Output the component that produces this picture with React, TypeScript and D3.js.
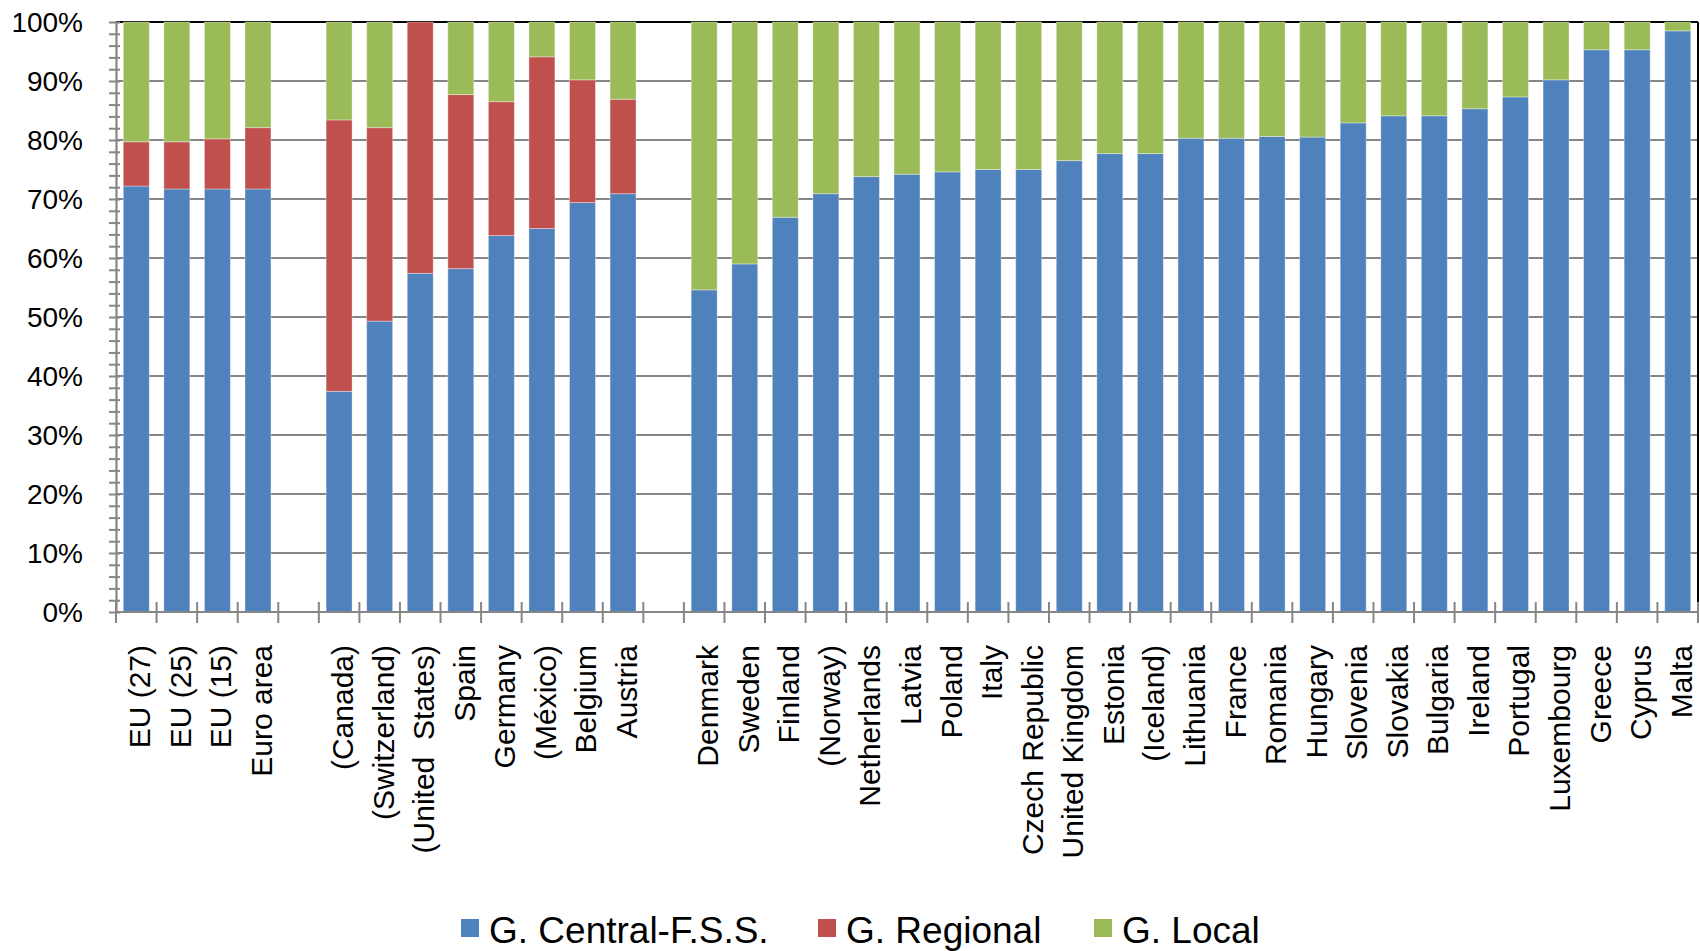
import { useEffect, useRef } from 'react';
import * as d3 from 'd3';

// Share of public expenditure by level of government (%)
const categories = [
  'EU (27)', 'EU (25)', 'EU (15)', 'Euro area',
  '(Canada)', '(Switzerland)', '(United  States)', 'Spain', 'Germany', '(México)', 'Belgium', 'Austria',
  'Denmark', 'Sweden', 'Finland', '(Norway)', 'Netherlands', 'Latvia', 'Poland', 'Italy',
  'Czech Republic', 'United Kingdom', 'Estonia', '(Iceland)', 'Lithuania', 'France', 'Romania',
  'Hungary', 'Slovenia', 'Slovakia', 'Bulgaria', 'Ireland', 'Portugal', 'Luxembourg', 'Greece',
  'Cyprus', 'Malta',
];

// empty slot after these categories
const gapAfter = ['Euro area', 'Austria'];

const central = [
  72.2, 71.7, 71.7, 71.7,
  37.4, 49.3, 57.4, 58.2, 63.8, 65.0, 69.4, 70.9,
  54.6, 59.0, 66.9, 70.9, 73.8, 74.2, 74.6, 75.0,
  75.0, 76.5, 77.7, 77.7, 80.3, 80.3, 80.6,
  80.5, 82.9, 84.1, 84.1, 85.3, 87.3, 90.2, 95.3,
  95.3, 98.5,
];

const regional = [
  7.5, 8.0, 8.5, 10.4,
  46.0, 32.8, 42.6, 29.5, 22.7, 29.1, 20.8, 16.0,
  0, 0, 0, 0, 0, 0, 0, 0,
  0, 0, 0, 0, 0, 0, 0,
  0, 0, 0, 0, 0, 0, 0, 0,
  0, 0,
];

const local = [
  20.3, 20.3, 19.8, 17.9,
  16.6, 17.9, 0, 12.3, 13.5, 5.9, 9.8, 13.1,
  45.4, 41.0, 33.1, 29.1, 26.2, 25.8, 25.4, 25.0,
  25.0, 23.5, 22.3, 22.3, 19.7, 19.7, 19.4,
  19.5, 17.1, 15.9, 15.9, 14.7, 12.7, 9.8, 4.7,
  4.7, 1.5,
];

const seriesNames = ['G. Central-F.S.S.', 'G. Regional', 'G. Local'];
const seriesColors = ['#4F81BD', '#C0504D', '#9BBB59'];

const yTicks = [0, 10, 20, 30, 40, 50, 60, 70, 80, 90, 100];

const FONT = '"Liberation Sans", Arial, sans-serif';

export default function App() {
  const svgRef = useRef<SVGSVGElement>(null);

  useEffect(() => {
    if (!svgRef.current) return;

    const width = 1700;
    const height = 951;
    const margin = { top: 22, right: 2, bottom: 339, left: 116 };
    const innerWidth = width - margin.left - margin.right;
    const innerHeight = height - margin.top - margin.bottom;

    const svg = d3.select(svgRef.current);
    svg.selectAll('*').remove();
    svg.attr('width', width).attr('height', height);

    // slots, with blank ones between the groups
    const slots: string[] = [];
    categories.forEach((c) => {
      slots.push(c);
      if (gapAfter.includes(c)) slots.push(`__gap_${c}`);
    });

    const data = categories.map((c, i) => ({
      name: c,
      v0: central[i],
      v1: regional[i],
      v2: local[i],
    }));

    const xScale = d3
      .scaleBand<string>()
      .domain(slots)
      .range([0, innerWidth])
      .paddingInner(0.36)
      .paddingOuter(0.18);

    const step = innerWidth / slots.length;

    const yScale = d3.scaleLinear().domain([0, 100]).range([innerHeight, 0]);

    const g = svg
      .append('g')
      .attr('transform', `translate(${margin.left},${margin.top})`);

    // Gridlines
    g.selectAll('line.grid')
      .data(yTicks.filter((t) => t > 0))
      .enter()
      .append('line')
      .attr('class', 'grid')
      .attr('x1', 0)
      .attr('x2', innerWidth)
      .attr('y1', (d) => yScale(d))
      .attr('y2', (d) => yScale(d))
      .attr('stroke', (d) => (d === 100 ? '#000000' : '#868686'))
      .attr('stroke-width', 2.2);

    // right border
    g.append('line')
      .attr('x1', innerWidth)
      .attr('x2', innerWidth)
      .attr('y1', 0)
      .attr('y2', innerHeight)
      .attr('stroke', '#000000')
      .attr('stroke-width', 2);

    // Stacked bars
    const stack = d3.stack<any>().keys(['v0', 'v1', 'v2']);
    const layers = stack(data);

    layers.forEach((layer, li) => {
      g.append('g')
        .selectAll('rect')
        .data(layer)
        .enter()
        .append('rect')
        .attr('x', (d) => xScale(d.data.name) as number)
        .attr('width', xScale.bandwidth())
        .attr('y', (d) => yScale(d[1]))
        .attr('height', (d) => yScale(d[0]) - yScale(d[1]))
        .attr('fill', seriesColors[li])
        .attr('stroke', 'rgba(255,255,255,0.35)')
        .attr('stroke-width', (d) => (d[1] - d[0] > 0 ? 1 : 0));
    });

    // Y axis
    const yAxis = d3
      .axisLeft(yScale)
      .tickValues(d3.range(0, 101, 2))
      .tickSizeInner(7)
      .tickSizeOuter(0)
      .tickFormat(() => '');

    const yg = g.append('g').call(yAxis);
    yg.select('.domain').attr('stroke', '#868686').attr('stroke-width', 2.2);
    yg.selectAll('.tick line')
      .attr('x1', 4)
      .attr('x2', -7)
      .attr('stroke', '#868686')
      .attr('stroke-width', 2);

    g.selectAll('text.ylabel')
      .data(yTicks)
      .enter()
      .append('text')
      .attr('class', 'ylabel')
      .attr('x', -33)
      .attr('y', (d) => yScale(d))
      .attr('dy', '0.35em')
      .attr('text-anchor', 'end')
      .attr('font-family', FONT)
      .attr('font-size', '28px')
      .attr('fill', '#000')
      .text((d) => `${d}%`);

    // X axis
    const xg = g.append('g').attr('transform', `translate(0,${innerHeight})`);
    xg.append('line')
      .attr('x1', 0)
      .attr('x2', innerWidth)
      .attr('stroke', '#868686')
      .attr('stroke-width', 2.2);

    xg.selectAll('line.xtick')
      .data(d3.range(slots.length + 1))
      .enter()
      .append('line')
      .attr('class', 'xtick')
      .attr('x1', (d) => d * step)
      .attr('x2', (d) => d * step)
      .attr('y1', -10)
      .attr('y2', 11)
      .attr('stroke', '#868686')
      .attr('stroke-width', 2);

    xg.selectAll('text')
      .data(categories)
      .enter()
      .append('text')
      .attr(
        'transform',
        (d) =>
          `translate(${(xScale(d) as number) + xScale.bandwidth() / 2 + 14},33) rotate(-90)`
      )
      .attr('text-anchor', 'end')
      .attr('font-family', FONT)
      .attr('font-size', '30px')
      .attr('fill', '#000')
      .style('white-space', 'pre')
      .text((d) => d);

    // Legend
    const legendX = [461, 818, 1094];
    const legend = svg.append('g');
    seriesNames.forEach((name, i) => {
      legend
        .append('rect')
        .attr('x', legendX[i])
        .attr('y', 919)
        .attr('width', 18)
        .attr('height', 18)
        .attr('fill', seriesColors[i]);
      legend
        .append('text')
        .attr('x', legendX[i] + 28)
        .attr('y', 943)
        .attr('font-family', FONT)
        .attr('font-size', '37px')
        .attr('fill', '#000')
        .text(name);
    });
  }, []);

  return (
    <div style={{ position: 'absolute', left: 0, top: 0 }}>
      <svg ref={svgRef} style={{ display: 'block', background: '#fff' }} />
    </div>
  );
}
